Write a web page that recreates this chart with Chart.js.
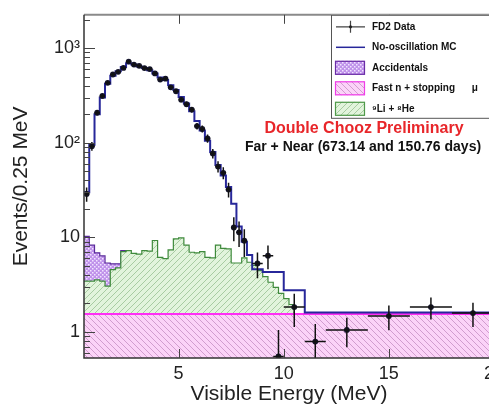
<!DOCTYPE html>
<html>
<head>
<meta charset="utf-8">
<script src="https://cdn.jsdelivr.net/npm/chart.js@4.4.0/dist/chart.umd.min.js"></script>
<style>
html, body { margin: 0; padding: 0; background: #fff; overflow: hidden; }
#wrap { width: 510px; height: 411px; }
</style>
</head>
<body>
<div id="wrap"><canvas id="spectrum" width="510" height="411"></canvas></div>
<script>
// FD2 data: bin centre (MeV), events / 0.25 MeV, error, half bin width
const dataEnergy = [0.625, 0.875, 1.125, 1.375, 1.625, 1.875, 2.125, 2.375, 2.625, 2.875,
    3.125, 3.375, 3.625, 3.875, 4.125, 4.375, 4.625, 4.875, 5.125, 5.375,
    5.625, 5.875, 6.125, 6.375, 6.625, 6.875, 7.125, 7.375, 7.625, 7.875,
    8.125, 8.75, 9.25, 9.75, 10.5, 11.5, 13, 15, 17, 19];
const dataEvents = [28.7, 92, 208, 312, 430, 526, 561, 618, 720, 670,
    650, 615, 600, 540, 465, 475, 385, 350, 285, 255,
    224, 150, 140, 111, 77, 56, 48, 32, 12.7, 11.3,
    9.2, 5.3, 6.4, 0.55, 1.83, 0.79, 1.05, 1.47, 1.83, 1.58];
const dataError = [5, 10, 14, 18, 21, 23, 24, 25, 27, 26,
    25, 25, 24, 23, 22, 22, 20, 19, 17, 16,
    15, 12, 12, 11, 9, 7.5, 7, 5.7, 3.6, 3.4,
    3.0, 1.6, 1.8, 0.5, 0.7, 0.42, 0.36, 0.43, 0.48, 0.45];
const dataHalfWidth = [0.125, 0.125, 0.125, 0.125, 0.125, 0.125, 0.125, 0.125, 0.125, 0.125,
    0.125, 0.125, 0.125, 0.125, 0.125, 0.125, 0.125, 0.125, 0.125, 0.125,
    0.125, 0.125, 0.125, 0.125, 0.125, 0.125, 0.125, 0.125, 0.125, 0.125,
    0.125, 0.25, 0.25, 0.25, 0.5, 0.5, 1, 1, 1, 1];

// no-oscillation MC, 0.25 MeV bins from 0.5 to 8.5 MeV
const mcFine = [30, 95, 200, 300, 420, 510, 570, 630, 690, 670,
    640, 615, 585, 540, 490, 460, 405, 360, 305, 260,
    215, 170, 135, 105, 80, 58, 45, 34, 22.6, 13,
    9, 6.5];
// wider MC bins above 8.5 MeV
const mcWideEdges = [8.5, 9.0, 10.0, 11.0, 20.0];
const mcWide = [4.6, 4.3, 2.75, 1.6];

// backgrounds
const fastNEdges = [0.5, 20];
const fastN = [1.55];
const liHe = [1.9, 1.9, 2.0, 1.9, 1.5, 3.0, 3.2, 5.5, 5.7, 5.2,
    5.1, 5.7, 5.6, 7.7, 4.6, 4.4, 5.8, 8.1, 8.3, 6.7,
    5.4, 5.3, 5.5, 4.6, 4.5, 6.7, 6.1, 6.0, 3.8, 3.8,
    4.5, 3.9, 3.5, 2.9, 2.3, 1.8, 1.4, 1.0, 0.7, 0.4];
const accidentals = [6.8, 4.8, 3.3, 2.9, 2.3, 0.7, 0.5, 0.2];

const xTicks = [5, 10, 15, 20];
const yTicks = [1, 10, 100, 1000];
const yTickLabels = ['1', '10', '10²', '10³'];

const FONT = "'Liberation Sans', Arial, sans-serif";
const MC_BLUE = '#27279a';

function fineEdges(n) {
    return Array.from({ length: n + 1 }, (_, i) => 0.5 + 0.25 * i);
}

// histogram -> points for a stepped line (value sits on the left edge)
function steps(edges, vals) {
    const pts = vals.map((v, i) => ({ x: edges[i], y: v }));
    pts.push({ x: edges[vals.length], y: vals[vals.length - 1] });
    return pts;
}

function hatch(bg, line, dir) {
    const s = 6;
    const c = document.createElement('canvas');
    c.width = c.height = s;
    const g = c.getContext('2d');
    g.fillStyle = bg;
    g.fillRect(0, 0, s, s);
    g.strokeStyle = line;
    g.lineWidth = 0.8;
    g.beginPath();
    if (dir === '/') {
        g.moveTo(-1, 1); g.lineTo(1, -1);
        g.moveTo(0, s); g.lineTo(s, 0);
        g.moveTo(s - 1, s + 1); g.lineTo(s + 1, s - 1);
    } else {
        g.moveTo(-1, s - 1); g.lineTo(1, s + 1);
        g.moveTo(0, 0); g.lineTo(s, s);
        g.moveTo(s - 1, -1); g.lineTo(s + 1, 1);
    }
    g.stroke();
    return g.createPattern(c, 'repeat');
}

function dots(bg, dot) {
    const c = document.createElement('canvas');
    c.width = c.height = 4;
    const g = c.getContext('2d');
    g.fillStyle = bg;
    g.fillRect(0, 0, 4, 4);
    g.fillStyle = dot;
    g.fillRect(0, 0, 1.5, 1.5);
    g.fillRect(2, 2, 1.5, 1.5);
    return g.createPattern(c, 'repeat');
}

const pinkFill = hatch('#fbd3f8', '#c78fc4', '\\');
const greenFill = hatch('#e2f4dc', '#99c293', '/');
const purpleFill = dots('#bf92ea', '#f1e4ff');

// stacked tops of the background histograms
const mcEdges = fineEdges(mcFine.length).concat(mcWideEdges.slice(1));
const mcPoints = steps(mcEdges, mcFine.concat(mcWide));
const fastNPoints = steps(fastNEdges, fastN);
const liHeTop = liHe.map(v => v + fastN[0]);
const liHePoints = steps(fineEdges(liHe.length), liHeTop);
liHePoints.push({ x: 0.5 + 0.25 * liHe.length, y: fastN[0] });
const accTop = accidentals.map((v, i) => v + liHeTop[i]);
const accPoints = steps(fineEdges(accidentals.length), accTop);
accPoints.push({ x: 0.5 + 0.25 * accidentals.length, y: liHeTop[accidentals.length] });

const dataPoints = dataEnergy.map((e, i) => ({ x: e, y: dataEvents[i] }));

const decor = {
    id: 'decor',
    afterDatasetsDraw(chart) {
        const { ctx, chartArea: a, scales: { x, y } } = chart;
        ctx.save();
        ctx.beginPath();
        ctx.rect(a.left, a.top, a.right - a.left, a.bottom - a.top);
        ctx.clip();
        ctx.strokeStyle = '#111';
        ctx.lineWidth = 1.5;
        dataEnergy.forEach((e, i) => {
            const px = x.getPixelForValue(e);
            const py = y.getPixelForValue(dataEvents[i]);
            const lo = Math.max(dataEvents[i] - dataError[i], 0.01);
            ctx.beginPath();
            ctx.moveTo(px, y.getPixelForValue(dataEvents[i] + dataError[i]));
            ctx.lineTo(px, y.getPixelForValue(lo));
            ctx.moveTo(x.getPixelForValue(e - dataHalfWidth[i]), py);
            ctx.lineTo(x.getPixelForValue(e + dataHalfWidth[i]), py);
            ctx.stroke();
        });
        ctx.restore();
    },
    afterDraw(chart) {
        const { ctx, chartArea: a, scales: { x, y } } = chart;
        ctx.save();
        // frame
        ctx.strokeStyle = '#8a8a8a';
        ctx.lineWidth = 2;
        ctx.beginPath();
        ctx.moveTo(a.left, a.top); ctx.lineTo(a.right, a.top); ctx.lineTo(a.right, a.bottom);
        ctx.stroke();
        ctx.strokeStyle = '#333';
        ctx.lineWidth = 1.5;
        ctx.beginPath();
        ctx.moveTo(a.left, a.top); ctx.lineTo(a.left, a.bottom); ctx.lineTo(a.right, a.bottom);
        ctx.stroke();

        // log ticks on the left axis
        ctx.lineWidth = 1;
        ctx.strokeStyle = '#444';
        ctx.beginPath();
        for (let d = 0.1; d <= 1000; d *= 10) {
            for (let m = 1; m < 10; m++) {
                const v = m * d;
                if (v < y.min || v > y.max) continue;
                const py = Math.round(y.getPixelForValue(v)) + 0.5;
                ctx.moveTo(a.left, py);
                ctx.lineTo(a.left + (m === 1 ? 11 : 6), py);
            }
        }
        // energy ticks top and bottom
        xTicks.forEach(t => {
            const px = Math.round(x.getPixelForValue(t)) + 0.5;
            ctx.moveTo(px, a.bottom); ctx.lineTo(px, a.bottom - 9);
            ctx.moveTo(px, a.top); ctx.lineTo(px, a.top + 9);
        });
        ctx.stroke();

        // legend box
        const lx = 331, ly = a.top, rowH = 20.5;
        ctx.fillStyle = '#fff';
        ctx.fillRect(lx, ly, 200, 103);
        ctx.strokeStyle = '#555';
        ctx.lineWidth = 1;
        ctx.strokeRect(lx + 0.5, ly + 0.5, 200, 103);
        const rows = ['FD2 Data', 'No-oscillation MC', 'Accidentals', 'Fast n + stopping      \u03bc', '\u2079Li + \u2078He'];
        rows.forEach((label, i) => {
            const cy = ly + 12 + i * rowH;
            if (i === 0) {
                ctx.strokeStyle = '#444';
                ctx.lineWidth = 1.2;
                ctx.beginPath();
                ctx.moveTo(336, cy); ctx.lineTo(365, cy);
                ctx.moveTo(350.5, cy - 6); ctx.lineTo(350.5, cy + 6);
                ctx.stroke();
                ctx.fillStyle = '#222';
                ctx.beginPath(); ctx.arc(350.5, cy, 1.6, 0, Math.PI * 2); ctx.fill();
            } else if (i === 1) {
                ctx.strokeStyle = MC_BLUE;
                ctx.lineWidth = 1.5;
                ctx.beginPath();
                ctx.moveTo(336, cy); ctx.lineTo(365, cy);
                ctx.stroke();
            } else {
                const fills = [purpleFill, pinkFill, greenFill];
                const edges = ['#6a2ca6', '#ef3ce8', '#4f9a4a'];
                ctx.fillStyle = fills[i - 2];
                ctx.fillRect(335, cy - 7, 30, 14);
                ctx.strokeStyle = edges[i - 2];
                ctx.lineWidth = 1.2;
                ctx.strokeRect(335.5, cy - 6.5, 29, 13);
            }
            ctx.fillStyle = '#111';
            ctx.font = 'bold 10px ' + FONT;
            ctx.textBaseline = 'middle';
            ctx.textAlign = 'left';
            ctx.fillText(label, 372, cy);
        });

        // annotations
        ctx.textAlign = 'center';
        ctx.fillStyle = '#e8262a';
        ctx.font = 'bold 16px ' + FONT;
        ctx.fillText('Double Chooz Preliminary', 364, 129);
        ctx.fillStyle = '#111';
        ctx.font = 'bold 14px ' + FONT;
        ctx.fillText('Far + Near (673.14 and 150.76 days)', 363, 147);
        ctx.restore();
    }
};

new Chart(document.getElementById('spectrum'), {
    type: 'line',
    data: {
        datasets: [
            {
                label: 'FD2 Data',
                data: dataPoints,
                showLine: false,
                pointRadius: 2.9,
                pointBackgroundColor: '#14142a',
                pointBorderColor: '#14142a',
                pointBorderWidth: 0
            },
            {
                label: 'No-oscillation MC',
                data: mcPoints,
                stepped: 'before',
                borderColor: MC_BLUE,
                borderWidth: 2,
                pointRadius: 0,
                fill: false
            },
            {
                label: 'Fast n + stopping μ',
                data: fastNPoints,
                stepped: 'before',
                borderColor: '#ff2ef5',
                borderWidth: 2,
                backgroundColor: pinkFill,
                pointRadius: 0,
                fill: 'start'
            },
            {
                label: '⁹Li + ⁸He',
                data: liHePoints,
                stepped: 'before',
                borderColor: '#3f8a3c',
                borderWidth: 1.2,
                backgroundColor: greenFill,
                pointRadius: 0,
                fill: 'start'
            },
            {
                label: 'Accidentals',
                data: accPoints,
                stepped: 'before',
                borderColor: '#5a2a9a',
                borderWidth: 1.2,
                backgroundColor: purpleFill,
                pointRadius: 0,
                fill: 'start'
            }
        ]
    },
    options: {
        responsive: false,
        animation: false,
        devicePixelRatio: 1,
        layout: { padding: { top: 12, right: 16, left: 0, bottom: 0 } },
        plugins: {
            legend: { display: false },
            tooltip: { enabled: false }
        },
        scales: {
            x: {
                type: 'linear',
                min: 0.5,
                max: 20,
                afterFit: function (scale) { scale.height = 53; },
                afterBuildTicks: function (scale) {
                    scale.ticks = xTicks.map(v => ({ value: v }));
                },
                grid: { display: false, drawTicks: false },
                border: { display: false },
                ticks: {
                    padding: 5,
                    autoSkip: false,
                    color: '#222',
                    font: { family: FONT, size: 18 },
                    maxRotation: 0
                },
                title: {
                    display: true,
                    text: 'Visible Energy (MeV)',
                    color: '#222',
                    font: { family: FONT, size: 21 },
                    padding: { top: 0, bottom: 4 }
                }
            },
            y: {
                type: 'logarithmic',
                min: 0.53,
                max: 2250,
                afterFit: function (scale) { scale.width = 84; },
                afterBuildTicks: function (scale) {
                    scale.ticks = yTicks.map(v => ({ value: v }));
                },
                grid: { display: false, drawTicks: false },
                border: { display: false },
                ticks: {
                    padding: 4,
                    autoSkip: false,
                    color: '#222',
                    font: { family: FONT, size: 18 },
                    callback: function (value) {
                        const i = yTicks.indexOf(value);
                        return i >= 0 ? yTickLabels[i] : '';
                    }
                },
                title: {
                    display: true,
                    text: 'Events/0.25 MeV',
                    color: '#222',
                    font: { family: FONT, size: 21 },
                    padding: { top: 9, bottom: 0 }
                }
            }
        }
    },
    plugins: [decor]
});
</script>
</body>
</html>
